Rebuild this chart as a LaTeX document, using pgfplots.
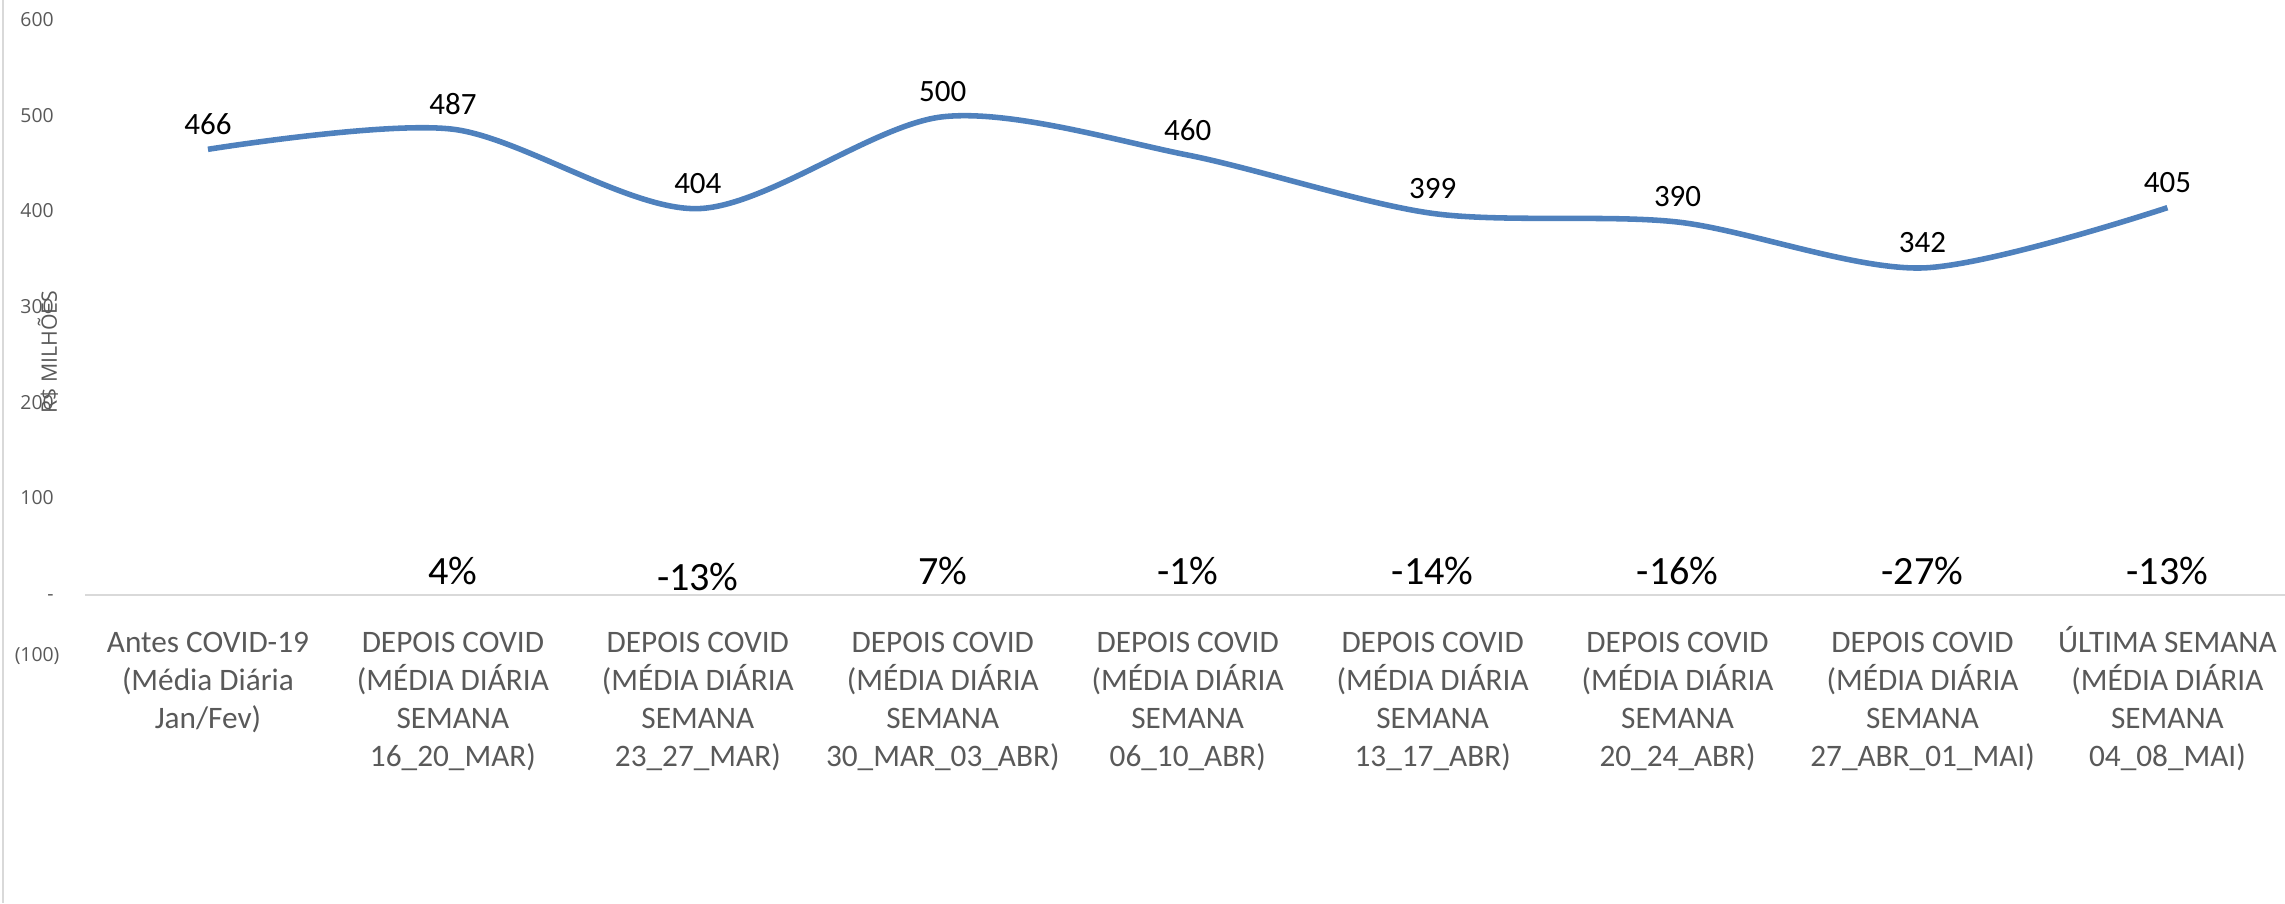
\documentclass[border=0pt]{standalone}
\usepackage{fontspec}
\setmainfont{Carlito}
\newfontfamily\axisfont{Open Sans}
\usepackage{pgfplots}
\pgfplotsset{compat=1.18}
\definecolor{serie}{HTML}{4F81BD}
\definecolor{lbl}{HTML}{595959}
\definecolor{axisc}{HTML}{D9D9D9}

\begin{document}
\begin{tikzpicture}
\begin{axis}[
  scale only axis, width=792bp, height=241.1bp,
  xmin=-0.502, xmax=8.48, ymin=-100, ymax=600,
  axis x line*=middle, axis y line*=left,
  x axis line style={axisc, line width=0.6bp},
  y axis line style={draw=none},
  hide obscured x ticks=false, hide obscured y ticks=false,
  major tick length=0pt, tick style={draw=none},
  xtick={0,1,2,3,4,5,6,7,8},
  xticklabels={
    {\strut Antes COVID-19\\(Média Diária\\Jan/Fev)},
    {\strut DEPOIS COVID\\(MÉDIA DIÁRIA\\SEMANA\\16\_20\_MAR)},
    {\strut DEPOIS COVID\\(MÉDIA DIÁRIA\\SEMANA\\23\_27\_MAR)},
    {\strut DEPOIS COVID\\(MÉDIA DIÁRIA\\SEMANA\\30\_MAR\_03\_ABR)},
    {\strut DEPOIS COVID\\(MÉDIA DIÁRIA\\SEMANA\\06\_10\_ABR)},
    {\strut DEPOIS COVID\\(MÉDIA DIÁRIA\\SEMANA\\13\_17\_ABR)},
    {\strut DEPOIS COVID\\(MÉDIA DIÁRIA\\SEMANA\\20\_24\_ABR)},
    {\strut DEPOIS COVID\\(MÉDIA DIÁRIA\\SEMANA\\27\_ABR\_01\_MAI)},
    {\strut ÚLTIMA SEMANA\\(MÉDIA DIÁRIA\\SEMANA\\04\_08\_MAI)}},
  xticklabel style={font=\fontsize{11.3}{13.7}\selectfont, text=lbl, align=center,
    anchor=north, inner sep=0pt, yshift=-10.9bp},
  ytick={-64,0,100,200,300,400,500,600},
  yticklabels={(100),-\phantom{)},100\phantom{)},200\phantom{)},300\phantom{)},400\phantom{)},500\phantom{)},600\phantom{)}},
  yticklabel style={font=\axisfont\fontsize{7}{9}\selectfont, text=lbl, anchor=east, inner sep=0pt, xshift=-9bp},
  ylabel={R\$ MILHÕES},
  ylabel style={at={(axis description cs:-0.0168,0.506)}, anchor=center,
    font=\axisfont\fontsize{7.7}{9}\selectfont, text=lbl},
  /pgf/number format/assume math mode=true,
  clip=false,
]
\addplot[serie, line width=2bp, smooth, mark=none,
  nodes near coords,
  nodes near coords style={font=\fontsize{11.2}{13}\selectfont, text=black, anchor=center, inner sep=0pt, yshift=9bp}]
  coordinates {(0,466) (1,487) (2,404) (3,500) (4,460) (5,399) (6,390) (7,342) (8,405)};
\addplot[draw=none, mark=none, nodes near coords, point meta=explicit symbolic,
  nodes near coords style={font=\fontsize{14.5}{17}\selectfont, text=black, anchor=base, inner sep=0pt, yshift=4bp}]
  coordinates {(1,0) [4\%] (2,-7) [-13\%] (3,0) [7\%] (4,0) [-1\%] (5,0) [-14\%] (6,0) [-16\%] (7,0) [-27\%] (8,0) [-13\%]};
\end{axis}
\pgfresetboundingbox
\path[use as bounding box] ([shift={(-30.6bp,-76.4bp)}]current axis.south west) rectangle ([shift={(0bp,7.6bp)}]current axis.north east);
\draw[axisc, line width=0.7bp] ([shift={(-29.5bp,-76.4bp)}]current axis.south west) -- ([shift={(-29.5bp,7.6bp)}]current axis.north west);
\end{tikzpicture}
\end{document}
